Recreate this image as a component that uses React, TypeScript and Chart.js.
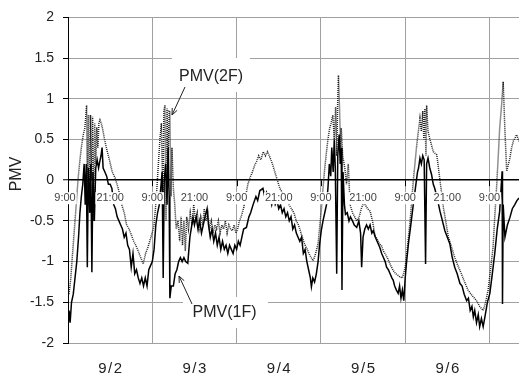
import React, { useEffect, useRef } from 'react';
import { Chart, registerables } from 'chart.js';

Chart.register(...registerables);

const FONT = '"Liberation Sans", Arial, sans-serif';

// hours since 9/2 9:00
const dayLabels = ['9/2', '9/3', '9/4', '9/5', '9/6'];
const dayLabelHours = [12, 36, 60, 84, 108];
const clockLabels = ['9:00', '21:00'];
const yTickValues = [-2, -1.5, -1, -0.5, 0, 0.5, 1, 1.5, 2];
const seriesNames = ['PMV(1F)', 'PMV(2F)'];

const pmv1F: [number, number][] = [
  [0, -1.8], [0.3, -1.6], [0.6, -1.75], [1.0, -1.5], [1.5, -1.4], [2.0, -1.2], [2.5, -1.0], [3.0, -0.7],
  [3.4, -0.4], [3.8, -0.2], [4.2, -0.05], [4.6, 0.2], [4.9, -0.3], [5.2, 0.2], [5.5, -1.07], [5.8, 0.15],
  [6.2, -0.4], [6.5, 0.2], [6.8, -1.13], [7.1, 0.1], [7.5, -0.5], [7.9, 0.15], [8.3, 0.25], [8.7, 0.15],
  [9.0, 0.22], [9.4, 0.3], [9.7, 0.4], [10.0, 0.15], [10.5, 0.1], [11.0, 0.05], [11.5, -0.05], [12.0, -0.05],
  [12.5, -0.1], [13.0, -0.3], [13.5, -0.35], [14.0, -0.45], [14.5, -0.5], [15.0, -0.55], [15.5, -0.6], [16.0, -0.7],
  [16.5, -0.65], [17.0, -0.8], [17.5, -0.85], [18.0, -1.07], [18.5, -0.9], [19.0, -1.15], [19.5, -1.1], [20.0, -1.2],
  [20.5, -1.27], [21.0, -1.2], [21.5, -1.3], [22.0, -1.2], [22.5, -1.3], [23.0, -1.1], [23.5, -1.05], [24.0, -1.0],
  [24.5, -0.85], [25.0, -0.55], [25.5, -0.4], [26.0, -0.3], [26.4, -0.1], [26.8, 0.1], [27.1, -1.2], [27.4, 0.0],
  [27.8, 0.2], [28.2, -0.3], [28.5, 0.4], [28.8, -0.2], [29.0, -1.45], [29.4, -1.3], [30.0, -1.3], [30.5, -1.15],
  [31.0, -1.1], [31.5, -1.0], [32.0, -0.95], [32.5, -1.0], [33.0, -0.95], [33.5, -1.0], [34.1, -1.02], [34.7, -0.7],
  [35.6, -0.46], [36.0, -0.55], [36.5, -0.45], [37.0, -0.6], [37.5, -0.5], [38.0, -0.65], [38.5, -0.55], [39.0, -0.45],
  [39.6, -0.35], [40.0, -0.55], [40.5, -0.7], [41.0, -0.6], [41.5, -0.75], [42.0, -0.65], [42.5, -0.8], [43.0, -0.7],
  [43.5, -0.85], [44.0, -0.75], [44.5, -0.85], [45.0, -0.8], [45.5, -0.9], [46.0, -0.8], [46.5, -0.85], [47.0, -0.9],
  [47.5, -0.8], [48.0, -0.85], [48.5, -0.75], [49.0, -0.8], [49.5, -0.7], [50.0, -0.6], [50.8, -0.58], [51.5, -0.45],
  [52.0, -0.4], [52.7, -0.3], [53.5, -0.2], [54.0, -0.25], [54.6, -0.13], [55.5, -0.1], [56.0, -0.2], [56.5, -0.15],
  [57.0, -0.25], [57.5, -0.2], [58.0, -0.3], [58.5, -0.2], [59.0, -0.3], [59.5, -0.25], [60.0, -0.35], [60.5, -0.3],
  [61.0, -0.4], [61.5, -0.35], [62.0, -0.45], [62.5, -0.4], [63.0, -0.5], [63.5, -0.45], [64.0, -0.6], [64.5, -0.55],
  [65.0, -0.65], [65.5, -0.7], [66.0, -0.75], [66.5, -0.7], [67.0, -0.9], [67.5, -0.85], [68.0, -1.0], [68.5, -1.1],
  [69.0, -1.2], [69.3, -1.31], [69.7, -1.2], [70.2, -1.25], [70.7, -1.15], [71.2, -1.0], [71.6, -0.8], [72.1, -0.62],
  [72.6, -0.5], [73.1, -0.4], [73.6, -0.3], [74.0, -0.1], [74.4, 0.2], [74.8, 0.05], [75.1, 0.4], [75.5, 0.1],
  [75.8, 0.5], [76.1, 0.15], [76.5, -1.15], [76.8, 0.3], [77.2, 0.56], [77.5, 0.2], [77.8, 0.4], [78.0, -1.35],
  [78.3, 0.1], [78.7, -0.3], [79.0, -0.42], [79.5, -0.4], [80.0, -0.5], [80.4, -0.45], [81.0, -0.5], [81.5, -0.55],
  [82.2, -0.58], [82.8, -0.5], [83.3, -0.65], [83.6, -1.07], [84.0, -0.7], [84.5, -0.6], [85.0, -0.55], [85.5, -0.6],
  [86.0, -0.55], [86.5, -0.65], [86.9, -0.62], [87.5, -0.7], [88.0, -0.75], [88.5, -0.8], [88.8, -0.83], [89.3, -0.9],
  [89.8, -0.95], [90.3, -1.0], [90.7, -1.07], [91.2, -1.1], [91.7, -1.15], [92.2, -1.2], [92.6, -1.23], [93.0, -1.3],
  [93.5, -1.35], [94.0, -1.39], [94.4, -1.3], [94.8, -1.45], [95.2, -1.35], [95.6, -1.48], [96.0, -1.2], [96.4, -1.0],
  [97.0, -0.75], [97.6, -0.55], [98.3, -0.3], [98.9, -0.1], [99.5, 0.1], [99.8, 0.15], [100.2, 0.27], [100.6, 0.2],
  [101.0, 0.3], [101.4, 0.25], [101.8, -1.03], [102.1, 0.2], [102.5, 0.27], [103.0, 0.15], [103.5, 0.07], [104.0, -0.05],
  [104.4, -0.1], [105.0, -0.2], [105.9, -0.38], [106.6, -0.5], [107.3, -0.62], [108.0, -0.7], [108.7, -0.78], [109.4, -0.95],
  [110.1, -1.07], [110.8, -1.15], [111.6, -1.27], [112.2, -1.3], [112.8, -1.4], [113.5, -1.48], [114.0, -1.45], [114.5, -1.6],
  [115.0, -1.55], [115.4, -1.68], [115.8, -1.6], [116.3, -1.75], [116.8, -1.65], [117.2, -1.8], [117.7, -1.7], [118.2, -1.8],
  [118.7, -1.68], [119.4, -1.5], [120.1, -1.39], [120.8, -1.15], [121.5, -0.9], [122.2, -0.6], [122.9, -0.38], [123.3, -0.1],
  [123.6, 0.11], [123.7, -1.52], [123.9, -0.3], [124.4, -0.7], [125.1, -0.55], [125.8, -0.46], [126.5, -0.35], [127.2, -0.3],
  [127.8, -0.25], [128.4, -0.22],
];

const pmv2F: [number, number][] = [
  [0.3, -1.4], [0.8, -1.2], [1.3, -0.9], [2.0, -0.5], [2.5, -0.2], [2.9, 0.03], [3.4, 0.25], [3.8, 0.4],
  [4.3, 0.55], [4.8, 0.64], [5.3, 0.92], [5.5, -0.3], [5.8, 0.8], [6.1, -0.4], [6.4, 0.8], [6.7, 0.0],
  [7.0, 0.78], [7.3, -0.5], [7.6, 0.7], [7.9, 0.2], [8.2, 0.65], [8.5, 0.4], [8.8, 0.7], [9.1, 0.74],
  [9.5, 0.7], [9.9, 0.62], [10.5, 0.48], [11.2, 0.35], [11.9, 0.23], [12.6, 0.1], [13.4, 0.03], [14.3, -0.1],
  [15.3, -0.3], [16.0, -0.4], [16.7, -0.55], [17.4, -0.6], [18.1, -0.68], [18.7, -0.75], [19.3, -0.8], [20.0, -0.87],
  [20.7, -0.95], [21.4, -1.03], [22.1, -0.9], [22.8, -0.82], [23.6, -0.7], [24.4, -0.58], [24.9, -0.35], [25.3, -0.1],
  [25.8, 0.25], [26.2, 0.52], [26.6, 0.7], [27.0, -0.3], [27.3, 0.85], [27.6, 0.92], [27.9, -0.5], [28.2, 0.88],
  [28.5, 0.2], [28.8, 0.85], [29.0, 0.85], [29.3, -0.2], [29.6, 0.4], [30.0, -0.1], [30.4, -0.3], [30.8, -0.6],
  [31.3, -0.5], [31.8, -0.75], [32.2, -0.45], [32.6, -0.8], [33.0, -0.5], [33.4, -0.87], [33.8, -0.45], [34.3, -0.6],
  [34.8, -0.4], [35.3, -0.55], [35.8, -0.3], [36.3, -0.5], [36.8, -0.4], [37.3, -0.6], [37.8, -0.45], [38.3, -0.55],
  [38.8, -0.35], [39.3, -0.5], [39.8, -0.4], [40.3, -0.6], [40.8, -0.5], [41.3, -0.65], [41.8, -0.55], [42.3, -0.6],
  [42.8, -0.5], [43.3, -0.65], [43.8, -0.55], [44.3, -0.6], [44.8, -0.5], [45.3, -0.65], [45.8, -0.55], [46.3, -0.6],
  [46.8, -0.62], [47.3, -0.55], [47.8, -0.65], [48.3, -0.6], [48.8, -0.5], [49.3, -0.45], [50.0, -0.34], [50.6, -0.2],
  [51.2, -0.05], [51.8, 0.03], [52.5, 0.1], [53.1, 0.18], [53.7, 0.23], [54.3, 0.3], [54.9, 0.25], [55.6, 0.35],
  [56.2, 0.3], [56.8, 0.35], [57.5, 0.28], [58.2, 0.2], [58.9, 0.1], [59.6, 0.0], [60.3, -0.1], [61.0, -0.15],
  [61.6, -0.2], [62.2, -0.23], [62.9, -0.3], [63.6, -0.35], [64.3, -0.4], [65.0, -0.5], [65.6, -0.55], [66.0, -0.6],
  [66.7, -0.7], [67.3, -0.78], [67.9, -0.83], [68.6, -0.9], [69.2, -0.95], [69.8, -0.99], [70.5, -0.9], [71.2, -0.78],
  [71.7, -0.55], [72.1, -0.38], [72.6, -0.1], [73.1, 0.15], [73.6, 0.35], [74.0, 0.5], [74.5, 0.64], [74.9, 0.7],
  [75.4, 0.8], [75.8, 0.5], [76.2, 0.9], [76.5, 0.3], [76.8, 1.0], [77.0, 1.29], [77.3, 0.9], [77.6, 0.4],
  [77.8, 0.64], [78.2, 0.3], [78.8, 0.15], [79.3, -0.05], [79.8, 0.2], [80.3, -0.3], [81.0, -0.4], [81.6, -0.45],
  [82.2, -0.5], [82.9, -0.45], [83.5, -0.35], [84.0, -0.3], [84.6, -0.3], [85.3, -0.35], [86.0, -0.38], [86.7, -0.5],
  [87.4, -0.68], [88.0, -0.72], [88.6, -0.78], [89.2, -0.8], [89.8, -0.87], [90.5, -0.92], [91.2, -0.98], [91.9, -1.05],
  [92.6, -1.11], [93.3, -1.15], [94.0, -1.17], [94.5, -1.19], [95.2, -1.2], [96.0, -1.07], [96.7, -0.8], [97.4, -0.5],
  [98.3, -0.01], [99.3, 0.44], [100.2, 0.76], [100.6, 0.6], [101.0, 0.85], [101.3, 0.5], [101.6, 0.88], [101.9, 0.3],
  [102.1, 0.92], [102.5, 0.6], [103.0, 0.51], [104.0, 0.35], [105.0, 0.31], [105.9, 0.0], [106.9, -0.34], [108.3, -0.7],
  [109.2, -0.82], [110.1, -0.95], [111.0, -1.05], [112.0, -1.15], [112.9, -1.25], [113.9, -1.35], [115.1, -1.42], [116.3, -1.48],
  [117.2, -1.55], [118.2, -1.6], [118.9, -1.5], [119.6, -1.35], [120.3, -1.1], [121.0, -0.83], [121.5, -0.45], [122.0, -0.1],
  [122.5, 0.3], [122.9, 0.64], [123.4, 0.9], [123.9, 1.21], [124.4, 0.6], [124.9, 0.11], [125.4, 0.2], [125.8, 0.27],
  [126.3, 0.4], [126.8, 0.48], [127.3, 0.52], [127.7, 0.56], [128.4, 0.48],
];

const GRID = '#a0a0a0';
const TEXT = '#222';

function arrow(ctx: CanvasRenderingContext2D, x1: number, y1: number, x2: number, y2: number) {
  const a = Math.atan2(y2 - y1, x2 - x1);
  const L = 7;
  ctx.beginPath();
  ctx.moveTo(x1, y1);
  ctx.lineTo(x2, y2);
  ctx.moveTo(x2 - L * Math.cos(a - 0.4), y2 - L * Math.sin(a - 0.4));
  ctx.lineTo(x2, y2);
  ctx.lineTo(x2 - L * Math.cos(a + 0.4), y2 - L * Math.sin(a + 0.4));
  ctx.stroke();
}

const overlay = {
  id: 'overlay',
  afterDatasetsDraw(chart: any) {
    const { ctx, scales } = chart;
    const x = scales.x;
    const y = scales.y;
    const y0 = y.getPixelForValue(0);
    ctx.save();
    ctx.strokeStyle = '#000';
    ctx.lineWidth = 1;
    for (let h = 24; h <= 120; h += 24) {
      const px = Math.round(x.getPixelForValue(h)) + 0.5;
      ctx.beginPath();
      ctx.moveTo(px, y0);
      ctx.lineTo(px, y0 + 6);
      ctx.stroke();
    }
    ctx.font = `11px ${FONT}`;
    ctx.textAlign = 'center';
    ctx.textBaseline = 'middle';
    for (let h = 0; h <= 120; h += 12) {
      const label = h % 24 === 0 ? clockLabels[0] : clockLabels[1];
      let px = x.getPixelForValue(h);
      if (h === 0) px -= 3;
      const w = ctx.measureText(label).width;
      ctx.fillStyle = '#fff';
      ctx.fillRect(px - w / 2 - 1, y0 + 12, w + 2, 12);
      ctx.fillStyle = '#444';
      ctx.fillText(label, px, y0 + 18);
    }
    ctx.fillStyle = '#fff';
    ctx.fillRect(172, 58, 78, 34);
    ctx.fillRect(183, 297, 85, 31);
    ctx.fillStyle = TEXT;
    ctx.font = `16px ${FONT}`;
    ctx.fillText(seriesNames[1], 211, 77);
    ctx.fillText(seriesNames[0], 224.5, 313);
    ctx.strokeStyle = '#222';
    ctx.lineWidth = 1;
    arrow(ctx, 185, 87, 172, 115);
    arrow(ctx, 192, 304, 179, 276);
    ctx.font = `15px ${FONT}`;
    (ctx as any).letterSpacing = '1.5px';
    dayLabels.forEach((lab, i) => {
      const px = x.getPixelForValue(dayLabelHours[i]);
      ctx.fillText(lab, px + 0.75, 369);
    });
    (ctx as any).letterSpacing = '0px';
    ctx.font = `16px ${FONT}`;
    ctx.translate(17, 174);
    ctx.rotate(-Math.PI / 2);
    ctx.fillText('PMV', 0, 0);
    ctx.restore();
  },
};

export default function App() {
  const ref = useRef<HTMLCanvasElement>(null);
  useEffect(() => {
    if (!ref.current) return;
    const chart = new Chart(ref.current, {
      type: 'line',
      data: {
        datasets: [
          {
            label: seriesNames[0],
            data: pmv1F.map(([h, v]) => ({ x: h, y: v })),
            borderColor: '#000',
            borderWidth: 1.5,
            pointRadius: 0,
            tension: 0,
            fill: false,
          },
          {
            label: seriesNames[1],
            data: pmv2F.map(([h, v]) => ({ x: h, y: v })),
            borderColor: '#222',
            borderWidth: 1.5,
            borderDash: [1, 1],
            pointRadius: 0,
            tension: 0,
            fill: false,
          },
        ],
      },
      options: {
        animation: false,
        responsive: true,
        maintainAspectRatio: false,
        layout: { padding: { top: 15, left: 0, right: 0, bottom: 0 } },
        plugins: { legend: { display: false }, tooltip: { enabled: false } },
        scales: {
          x: {
            type: 'linear',
            min: 0,
            max: 128.4,
            afterFit: (s: any) => { s.height = 34; },
            ticks: { stepSize: 12, includeBounds: false, display: false },
            grid: {
              drawTicks: false,
              color: (c: any) => (c.tick && c.tick.value % 24 === 0 && c.tick.value > 0 ? GRID : 'rgba(0,0,0,0)'),
              lineWidth: 1,
            },
            border: { display: true, color: GRID, width: 1 },
          },
          y: {
            min: -2,
            max: 2,
            afterFit: (s: any) => { s.width = 68; },
            afterBuildTicks: (s: any) => { s.ticks = yTickValues.map((v) => ({ value: v })); },
            ticks: {
              stepSize: 0.5,
              padding: 9,
              color: TEXT,
              font: { family: FONT, size: 14 },
              callback: (v: any) => String(v),
            },
            grid: {
              color: (c: any) => (c.tick && c.tick.value === 0 ? '#000' : GRID),
              lineWidth: (c: any) => (c.tick && c.tick.value === 0 ? 1.5 : 1),
              tickColor: '#000',
              tickLength: 5,
              tickWidth: 1,
            },
            border: { display: true, color: '#000', width: 1 },
          },
        },
      },
      plugins: [overlay],
    });
    return () => chart.destroy();
  }, []);
  return (
    <div style={{ position: 'fixed', left: 0, top: 0, width: 519, height: 377, background: '#fff' }}>
      <canvas ref={ref} />
    </div>
  );
}
